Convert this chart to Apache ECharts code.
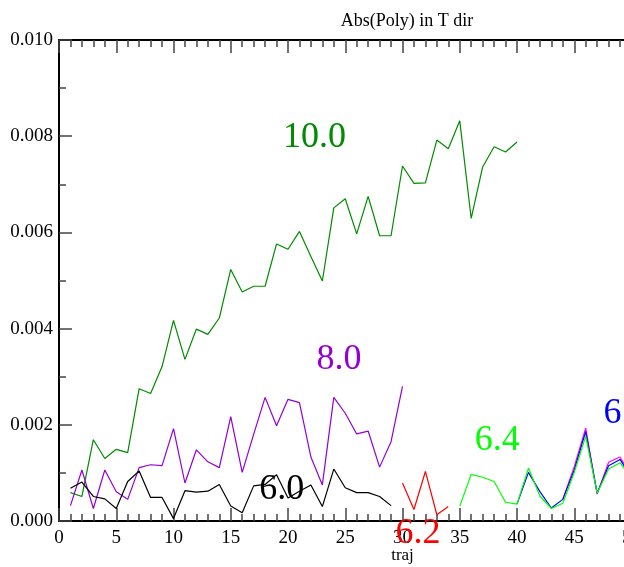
<!DOCTYPE html>
<html>
<head>
<meta charset="utf-8">
<script src="https://cdn.jsdelivr.net/npm/echarts@6/dist/echarts.min.js"></script>
<style>html,body{margin:0;padding:0;background:#fff;overflow:hidden;width:624px;height:567px}#c{width:780px;height:567px}</style>
</head>
<body>
<div id="c"></div>
<script>
// x starts and values per series
const start10 = 1;
const beta10 = [0.00059,0.00051,0.00169,0.00130,0.00149,0.00142,0.00275,0.00265,0.00321,0.00417,0.00336,0.00399,0.00388,0.00422,0.00523,0.00476,0.00488,0.00488,0.00576,0.00565,0.00602,0.00550,0.00499,0.00651,0.00670,0.00597,0.00675,0.00593,0.00593,0.00738,0.00702,0.00703,0.00792,0.00774,0.00832,0.00629,0.00736,0.00778,0.00767,0.00788];
const start8 = 1;
const beta8 = [0.00032,0.00106,0.00026,0.00106,0.00061,0.00045,0.00111,0.00117,0.00115,0.00192,0.00079,0.00148,0.00123,0.00111,0.00217,0.00101,0.00180,0.00257,0.00198,0.00253,0.00246,0.00133,0.00075,0.00257,0.00224,0.00181,0.00187,0.00112,0.00165,0.00280];
const start60 = 1;
const beta60 = [0.00068,0.00081,0.00051,0.00046,0.00026,0.00082,0.00104,0.00049,0.00049,0.00005,0.00063,0.00060,0.00062,0.00076,0.00031,0.00017,0.00073,0.00076,0.00096,0.00048,0.00062,0.00075,0.00030,0.00108,0.00069,0.00059,0.00059,0.00051,0.00032];
const start62 = 30;
const beta62 = [0.00079,0.00024,0.00103,0.00013,0.00030];
const start64 = 35;
const beta64 = [0.00031,0.00097,0.00091,0.00082,0.00039,0.00035,0.00110,0.00052,0.00026,0.00037,0.00101,0.00176,0.00058,0.00108,0.00121,0.00090];
const start66 = 40;
const beta66 = [0.00035,0.00101,0.00061,0.00027,0.00045,0.00106,0.00186,0.00058,0.00115,0.00128,0.00090];
const start68 = 44;
const beta68 = [0.00045,0.00113,0.00193,0.00056,0.00122,0.00133,0.00092];

const xTicks = [0,5,10,15,20,25,30,35,40,45,50,55,60];
const yTicks = [0.000,0.002,0.004,0.006,0.008,0.010];

// series labels: text, colour, data-x of left edge, data-y of baseline
const labelText = ['10.0','8.0','6.0','6.2','6.4','6.6'];
const labelColor = ['#008b00','#9400d3','#000000','#ff0000','#00ff00','#0000ff'];
const labelX = [19.57,22.49,17.48,29.38,36.30,47.56];
const labelY = [0.00759,0.00299,0.00029,-0.00064,0.00129,0.00187];

function pairs(s, v){ return v.map((y,i)=>[s+i,y]); }

const FONT = '"Liberation Serif","Times New Roman",serif';
const chart = echarts.init(document.getElementById('c'), null, {renderer:'canvas'});

function line(name, s, v, color){
  return {name, type:'line', data:pairs(s,v), symbol:'none', animation:false,
    lineStyle:{color, width:1.2}, itemStyle:{color}, clip:false, z:2};
}

const axisCommon = {
  type:'value', min:0, max:60, interval:5,
  axisLine:{show:true, onZero:false, lineStyle:{color:'#000', width:2}},
  axisTick:{show:true, inside:true, length:13, lineStyle:{color:'#444', width:1.5}},
  minorTick:{show:true, splitNumber:5, length:7, lineStyle:{color:'#444', width:1.5}},
  splitLine:{show:false}
};

chart.setOption({
  backgroundColor:'#fff',
  animation:false,
  title:{text:'Abs(Poly) in T dir', left:402, top:7, textAlign:'center',
    textStyle:{fontFamily:FONT, fontSize:18, fontWeight:'normal', color:'#000'}},
  grid:{left:59, right:34, top:40, bottom:46, containLabel:false, outerBoundsMode:'none'},
  xAxis:[
    Object.assign({}, axisCommon, {position:'bottom', name:'traj', nameLocation:'middle', nameGap:26,
      nameMoveOverlap:false,
      nameTextStyle:{fontFamily:FONT, fontSize:17, color:'#000'},
      axisLabel:{show:true, margin:8, fontFamily:FONT, fontSize:19, color:'#000',
        customValues:xTicks, formatter:v=>String(v)}}),
    Object.assign({}, axisCommon, {position:'top', axisLabel:{show:false}})
  ],
  yAxis:[{
    type:'value', min:0, max:0.010, interval:0.002,
    axisLine:{show:true, onZero:false, lineStyle:{color:'#000', width:2}},
    axisTick:{show:true, inside:true, length:13, lineStyle:{color:'#444', width:1.5}},
    minorTick:{show:true, splitNumber:2, length:7, lineStyle:{color:'#444', width:1.5}},
    splitLine:{show:false},
    axisLabel:{margin:6, fontFamily:FONT, fontSize:19, color:'#000', formatter:v=>v.toFixed(3)}
  }],
  series:[
    line('10.0', start10, beta10, '#008b00'),
    line('8.0', start8, beta8, '#9400d3'),
    line('6.0', start60, beta60, '#000000'),
    line('6.2', start62, beta62, '#ff0000'),
    line('6.8', start68, beta68, '#ff00ff'),
    line('6.6', start66, beta66, '#0000ff'),
    line('6.4', start64, beta64, '#00ff00')
  ]
});

const g = labelText.map((t,i)=>{
  const p = chart.convertToPixel({xAxisIndex:0, yAxisIndex:0}, [labelX[i], labelY[i]]);
  return {type:'text', x:p[0], y:p[1], z:10,
    style:{text:t, fill:labelColor[i], font:'36px ' + FONT, textAlign:'left', textVerticalAlign:'bottom'}};
});
chart.setOption({graphic:g});
</script>
</body>
</html>
